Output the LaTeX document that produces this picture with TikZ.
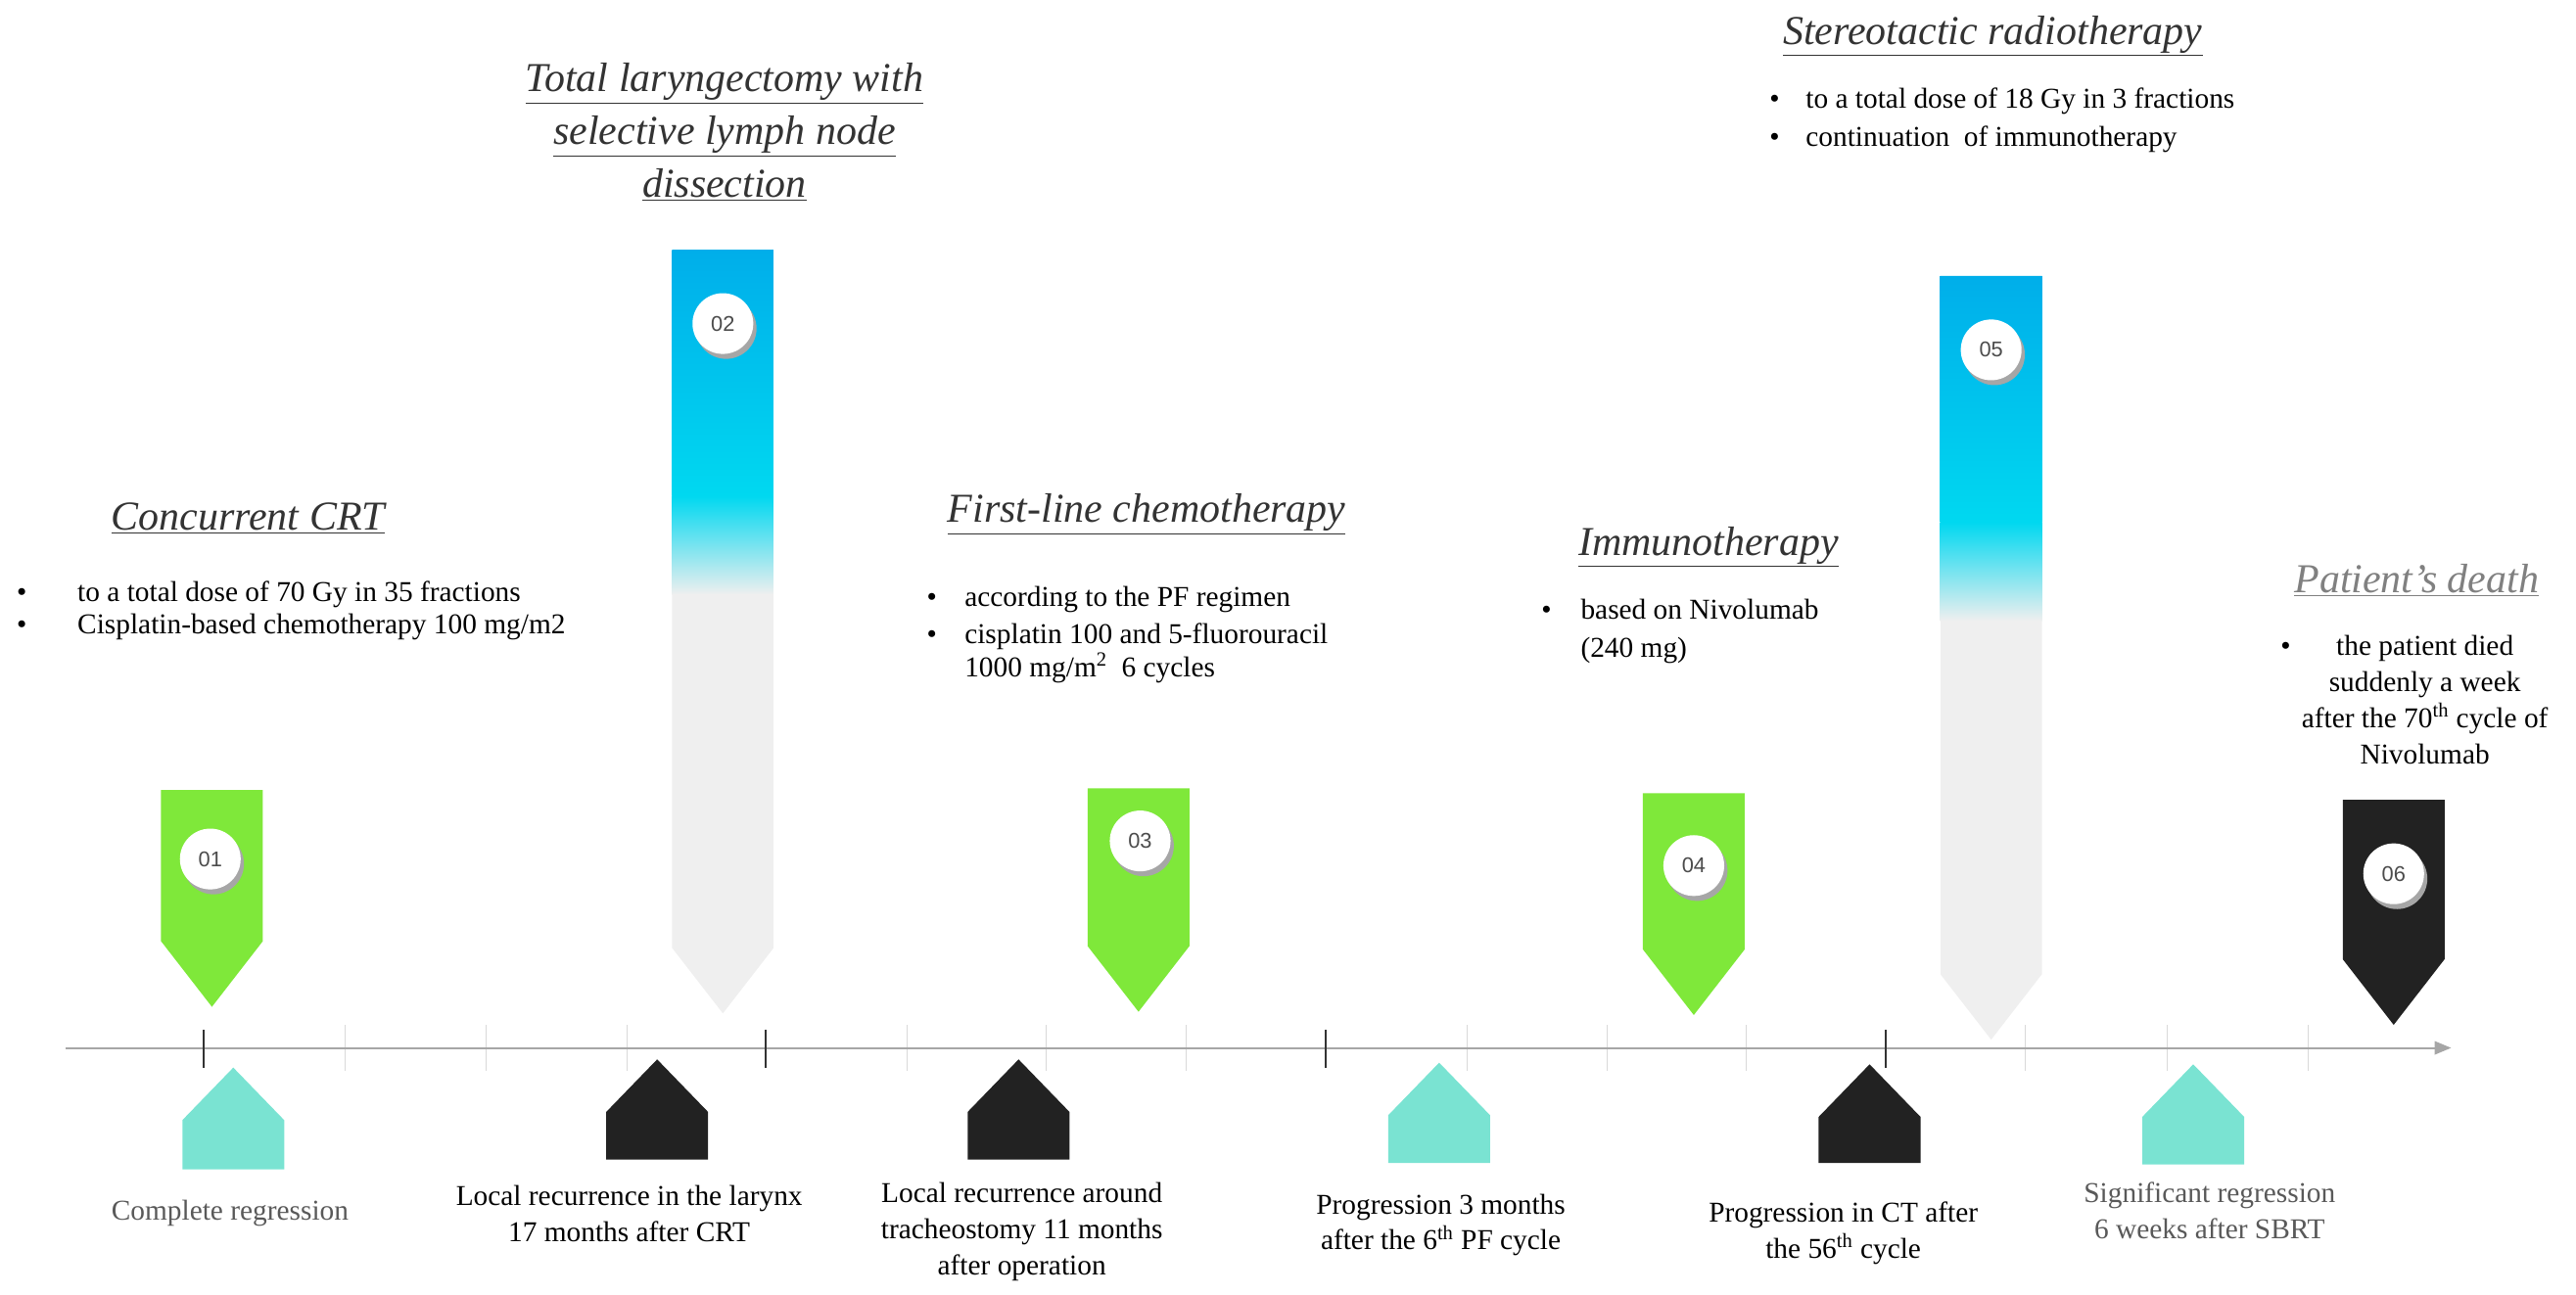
\documentclass[tikz,border=0pt]{standalone}
\usepackage{fontspec}
\setmainfont{Liberation Serif}
\setsansfont{Liberation Sans}
\usetikzlibrary{arrows.meta}
\definecolor{grn}{HTML}{7FE83A}
\definecolor{blk}{HTML}{222222}
\definecolor{cyn}{HTML}{7AE3D2}
\definecolor{lg}{HTML}{EFEFEF}
\definecolor{blu}{HTML}{00AEEA}
\definecolor{cy2}{HTML}{00D8F0}
\definecolor{ttl}{HTML}{333333}
\tikzset{
  body/.style={font=\fontsize{17.5}{22}\selectfont, text=black, inner sep=0pt},
  grey/.style={body, text=black!65},
  ttlstyle/.style={font=\fontsize{25}{32}\selectfont\itshape, text=ttl, inner sep=0pt, align=center},
  numc/.style={circle, fill=white, minimum size=37pt, inner sep=0pt, font=\sffamily\fontsize{13}{13}\selectfont, text=black!70},
  lticks/.style={black!15, line width=0.6pt},
  dticks/.style={black!80, line width=1.3pt},
}
\newcommand{\downmk}[6]{% name x top tip fill shoulderoffset
  \fill[#5] (#2-31,#3) -- (#2+31,#3) -- (#2+31,#4-#6) -- (#2,#4) -- (#2-31,#4-#6) -- cycle;
  \coordinate (#1) at (#2,#4);}
\newcommand{\upmk}[5]{% name x tip bottom fill
  \fill[#5] (#2,#3) -- (#2+31,#3+32) -- (#2+31,#4) -- (#2-31,#4) -- (#2-31,#3+32) -- cycle;
  \coordinate (#1) at (#2,#3);}
\newcommand{\gradmk}[4]{% name x top tip
  \begin{scope}
  \clip (#2-31,#3) -- (#2+31,#3) -- (#2+31,#4-40) -- (#2,#4) -- (#2-31,#4-40) -- cycle;
  \shade[top color=blu, bottom color=cy2] (#2-31,#3) rectangle (#2+31,#3+150);
  \shade[top color=cy2, bottom color=lg] (#2-31,#3+150) rectangle (#2+31,#3+210);
  \fill[lg] (#2-31,#3+210) rectangle (#2+31,#4+1);
  \end{scope}
  \coordinate (#1) at (#2,#4);}
\newcommand{\numcirc}[4]{% name x y text
  \fill[black!35] (#2+2,#3+3) circle (18.5);
  \node[numc] (#1) at (#2,#3) {#4};}
\begin{document}
\begin{tikzpicture}[x=1pt,y=-1pt]
\useasboundingbox (0,0) rectangle (1568,788);
% axis
\foreach \t in {210,296,382,552,637,722,893,978,1063,1233,1319,1405}
  \draw[lticks] (\t,624) -- (\t,652);
\coordinate (axs) at (40,638);
\coordinate (axe) at (1492,638);
\draw[black!35, line width=1.2pt, -{Triangle[length=10pt,width=8pt]}] (axs) -- (axe);
\foreach \t in {124,466,807,1148}
  \draw[dticks] (\t,627) -- (\t,650);
% down markers
\downmk{m1}{129}{481}{613}{grn}{40}
\gradmk{m2}{440}{152}{617}
\downmk{m3}{693}{480}{616}{grn}{40}
\downmk{m4}{1031}{483}{618}{grn}{40}
\gradmk{m5}{1212}{168}{633}
\downmk{m6}{1457}{487}{624}{blk}{40}
\numcirc{c1}{128}{523}{01}
\numcirc{c2}{440}{197}{02}
\numcirc{c3}{694}{512}{03}
\numcirc{c4}{1031}{527}{04}
\numcirc{c5}{1212}{213}{05}
\numcirc{c6}{1457}{532}{06}
% up markers
\upmk{u1}{142}{650}{712}{cyn}
\upmk{u2}{400}{645}{706}{blk}
\upmk{u3}{620}{645}{706}{blk}
\upmk{u4}{876}{647}{708}{cyn}
\upmk{u5}{1138}{648}{708}{blk}
\upmk{u6}{1335}{648}{709}{cyn}
% bottom labels
\node[grey, anchor=base] (l1) at (140,743) {Complete regression};
\node[body, align=center, anchor=base] (l2) at (383,756) {Local recurrence in the larynx\\17 months after CRT};
\node[body, align=center, anchor=base] (l3) at (622,776) {Local recurrence around\\tracheostomy 11 months\\after operation};
\node[body, align=center, anchor=base] (l4) at (877,761) {Progression 3 months\\after the 6\textsuperscript{th} PF cycle};
\node[body, align=center, anchor=base] (l5) at (1122,766) {Progression in CT after\\the 56\textsuperscript{th} cycle};
\node[grey, align=center, anchor=base] (l6) at (1345,754) {Significant regression\\6 weeks after SBRT};
% titles
\node[ttlstyle, anchor=base] (t1) at (151,323) {\underline{Concurrent CRT}};
\node[ttlstyle, anchor=base] (t2) at (441,120) {\underline{Total laryngectomy with}\\\underline{selective lymph node}\\\underline{dissection}};
\node[ttlstyle, anchor=base] (t3) at (698,318) {\underline{First-line chemotherapy}};
\node[ttlstyle, anchor=base] (t4) at (1040,338) {\underline{Immunotherapy}};
\node[ttlstyle, anchor=base] (t5) at (1213,27) {\underline{Stereotactic radiotherapy}};
\node[ttlstyle, anchor=base, text=black!50] (t6) at (1471,361) {\underline{Patient’s death}};
% bullets
\node[body, anchor=base west] (b1a) at (10,366) {•}; \node[body, anchor=base west] (b1at) at (47,366) {to a total dose of 70 Gy in 35 fractions};
\node[body, anchor=base west] (b1b) at (10,386) {•}; \node[body, anchor=base west] (b1bt) at (47,386) {Cisplatin-based chemotherapy 100 mg/m2};
\node[body, anchor=base west] (b3a) at (564,369) {•}; \node[body, anchor=base west] (b3at) at (587,369) {according to the PF regimen};
\node[body, anchor=base west] (b3b) at (564,392) {•}; \node[body, anchor=base west] (b3bt) at (587,392) {cisplatin 100 and 5-fluorouracil};
\node[body, anchor=base west] (b3ct) at (587,412) {1000 mg/m\textsuperscript{2}\ \ 6 cycles};
\node[body, anchor=base west] (b4a) at (938,377) {•}; \node[body, anchor=base west] (b4at) at (962,377) {based on Nivolumab};
\node[body, anchor=base west] (b4bt) at (962,400) {(240 mg)};
\node[body, anchor=base west] (b5a) at (1077,66) {•}; \node[body, anchor=base west] (b5at) at (1099,66) {to a total dose of 18 Gy in 3 fractions};
\node[body, anchor=base west] (b5b) at (1077,89) {•}; \node[body, anchor=base west] (b5bt) at (1099,89) {continuation\ \ of immunotherapy};
\node[body, anchor=base west] (b6a) at (1388,399) {•};
\node[body, align=center, anchor=base] (b6t) at (1476,465) {the patient died\\suddenly a week\\after the 70\textsuperscript{th} cycle of\\Nivolumab};
\end{tikzpicture}
\end{document}
